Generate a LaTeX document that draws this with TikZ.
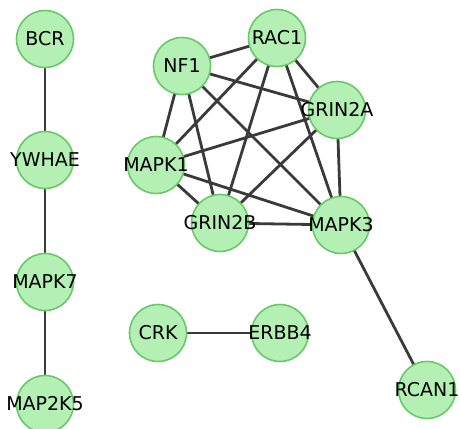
\documentclass[tikz,border=0pt]{standalone}
\usepackage{fontspec}
\setmainfont{DejaVu Sans}
\usetikzlibrary{backgrounds}
\definecolor{nodefill}{RGB}{180,240,180}
\definecolor{nodeline}{RGB}{105,200,105}
\definecolor{edgecol}{RGB}{58,58,58}
\tikzset{
  gene/.style={circle, draw=nodeline, fill=nodefill, line width=1.6pt, minimum size=57pt, inner sep=0pt,
    label={[font=\fontsize{19}{19}\selectfont, text=black, inner sep=0pt]center:#1}},
  link/.style={draw=edgecol, line width=2.8pt}
}
\begin{document}
\begin{tikzpicture}[x=1pt,y=-1pt]
\useasboundingbox (0,0) rectangle (460,428);
\node[gene=BCR] (BCR) at (45,39) {};
\node[gene=YWHAE] (YWHAE) at (45,160) {};
\node[gene=MAPK7] (MAPK7) at (45,282) {};
\node[gene=MAP2K5] (MAP2K5) at (45,404) {};
\node[gene=NF1] (NF1) at (182,66) {};
\node[gene=RAC1] (RAC1) at (277,38) {};
\node[gene=GRIN2A] (GRIN2A) at (337,110) {};
\node[gene=MAPK1] (MAPK1) at (156,165) {};
\node[gene=GRIN2B] (GRIN2B) at (220,223) {};
\node[gene=MAPK3] (MAPK3) at (341,225) {};
\node[gene=CRK] (CRK) at (158,333) {};
\node[gene=ERBB4] (ERBB4) at (280,333) {};
\node[gene=RCAN1] (RCAN1) at (427,390) {};
\begin{pgfonlayer}{background}
\draw[link] (BCR.center) -- (YWHAE.center);
\draw[link] (YWHAE.center) -- (MAPK7.center);
\draw[link] (MAPK7.center) -- (MAP2K5.center);
\draw[link] (CRK.center) -- (ERBB4.center);
\draw[link] (MAPK3.center) -- (RCAN1.center);
\foreach \a/\b in {NF1/RAC1, NF1/GRIN2A, NF1/MAPK1, NF1/GRIN2B, NF1/MAPK3,
  RAC1/GRIN2A, RAC1/MAPK1, RAC1/GRIN2B, RAC1/MAPK3,
  GRIN2A/MAPK1, GRIN2A/GRIN2B, GRIN2A/MAPK3,
  MAPK1/GRIN2B, MAPK1/MAPK3, GRIN2B/MAPK3}
  \draw[link] (\a.center) -- (\b.center);
\end{pgfonlayer}
\end{tikzpicture}
\end{document}
